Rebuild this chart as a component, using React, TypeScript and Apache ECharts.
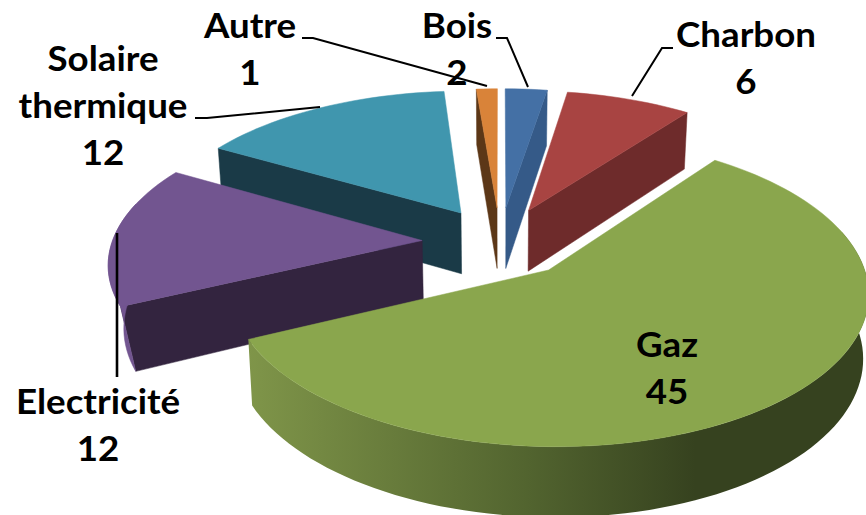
import React, { useEffect, useRef } from "react";
import * as echarts from "echarts";

const CATEGORIES = ["Bois", "Charbon", "Gaz", "Electricité", "Solaire thermique", "Autre"];
const VALUES = [2, 6, 45, 12, 12, 1];
const TOP_COLORS = ["#4470a5", "#a84442", "#8aa64d", "#725590", "#4096ae", "#d98339"];
const WALL_COLORS = ["#355a88", "#6e2b2b", "#5f7335", "#33243f", "#1a3a47", "#5c3717"];
const OUTER_COLORS = ["#355a88", "#6e2b2b", "#7f9549", "#725590", "#1a3a47", "#5c3717"];
const DRAW_ORDER = [4, 5, 0, 1, 3, 2];

// label text anchor centres and leader lines, in page pixels
const LABEL_POS: [number, number][] = [
  [457, 49], [746, 58], [667, 368], [98, 425], [103, 105], [250, 49],
];
const LEADERS: [number, number][][] = [
  [[496, 38], [507, 38], [528, 87]],
  [[673, 48], [662, 48], [632, 96]],
  [[302, 38], [313, 38], [487, 86]],
  [[195, 118], [207, 118], [320, 107]],
  [[117, 233], [117, 377]],
];
const LEADER_WIDTHS = [2, 2, 2, 2, 2.6];

const RADII = [305, 305, 308, 310, 310, 305];
const EXPLODES = [75, 75, 75, 78, 75, 75];
const SHRINKS = [0.015, 0.015, 0.015, 0.04, 0.015, 0.015];
const CX = 500, CY = 242, TILT = 0.47, PERSP = 0.000435, DEPTH = 62;
const RAD = Math.PI / 180;
const TOTAL = VALUES.reduce((a, b) => a + b, 0);

function project(X: number, Y: number, low: boolean, shrink: number): number[] {
  const s = 1 / (1 - PERSP * Y);
  const k = low ? 1 - shrink : 1;
  return [CX + X * s * k, CY + TILT * Y * s * (low ? 1 - 0.015 : 1) + (low ? DEPTH * s : 0)];
}

function sliceFaces(i: number) {
  const start = (VALUES.slice(0, i).reduce((a, b) => a + b, 0) / TOTAL) * 360;
  const end = start + (VALUES[i] / TOTAL) * 360;
  const mid = ((start + end) / 2) * RAD;
  const R = RADII[i];
  const ox = EXPLODES[i] * Math.sin(mid);
  const oy = -EXPLODES[i] * Math.cos(mid);
  const rim = (deg: number, low: boolean) =>
    project(ox + R * Math.sin(deg * RAD), oy - R * Math.cos(deg * RAD), low, SHRINKS[i]);
  const arc = (a: number, b: number, low: boolean) => {
    const pts: number[][] = [];
    const n = Math.max(2, Math.ceil((b - a) / 2));
    for (let k = 0; k <= n; k++) pts.push(rim(a + ((b - a) * k) / n, low));
    return pts;
  };
  const apexT = project(ox, oy, false, SHRINKS[i]);
  const apexB = project(ox, oy, true, 0.015);
  const faces: any[] = [];
  const poly = (points: number[][], fill: any) => ({
    type: "polygon",
    shape: { points },
    style: { fill, stroke: typeof fill === "string" ? fill : undefined, lineWidth: typeof fill === "string" ? 0.5 : 0 },
  });
  const wall = (deg: number) => poly([apexT, rim(deg, false), rim(deg, true), apexB], WALL_COLORS[i]);
  if (Math.sin(start * RAD) < -0.01) faces.push(wall(start));
  if (Math.sin(end * RAD) > 0.01) faces.push(wall(end));
  const a = Math.max(start, 75);
  const b = Math.min(end, 285);
  if (b > a) {
    const top = arc(a, b, false);
    const low = arc(a, b, true);
    const grad = new echarts.graphic.LinearGradient(0, 0, 1, 0, [
      { offset: 0, color: "#7f9549" },
      { offset: 0.45, color: "#52642f" },
      { offset: 0.72, color: "#36421f" },
      { offset: 1, color: "#36421f" },
    ]);
    faces.push(poly(top.concat(low.reverse()), i === 2 ? grad : OUTER_COLORS[i]));
  }
  faces.push(poly([apexT, ...arc(start, end, false)], TOP_COLORS[i]));
  return faces;
}

export default function App() {
  const ref = useRef<HTMLDivElement>(null);
  useEffect(() => {
    const chart = echarts.init(ref.current!, undefined, { renderer: "svg" });
    chart.setOption({
      animation: false,
      backgroundColor: "#ffffff",
      series: [
        {
          type: "custom",
          coordinateSystem: "none",
          silent: true,
          data: DRAW_ORDER.map((i) => [i, VALUES[i]]),
          renderItem: (params: any, api: any) => ({
            type: "group",
            children: sliceFaces(api.value(0)),
          }),
        },
      ],
      graphic: [
        ...LEADERS.map((pts, i) => ({
          type: "polyline",
          z: 50,
          shape: { points: pts },
          style: { stroke: "#000000", lineWidth: LEADER_WIDTHS[i], fill: "none" },
        })),
        ...CATEGORIES.map((name, i) => ({
          type: "text",
          z: 60,
          x: LABEL_POS[i][0],
          y: LABEL_POS[i][1],
          scaleX: 1.08,
          style: {
            text: `${name.replace(" ", "\n")}\n${VALUES[i]}`,
            font: "700 34px Lato",
            fill: "#000000",
            align: "center",
            verticalAlign: "middle",
            lineHeight: 47,
          },
        })),
      ],
    });
    return () => chart.dispose();
  }, []);
  return <div ref={ref} style={{ position: "fixed", left: 0, top: 0, width: 866, height: 515 }} />;
}
